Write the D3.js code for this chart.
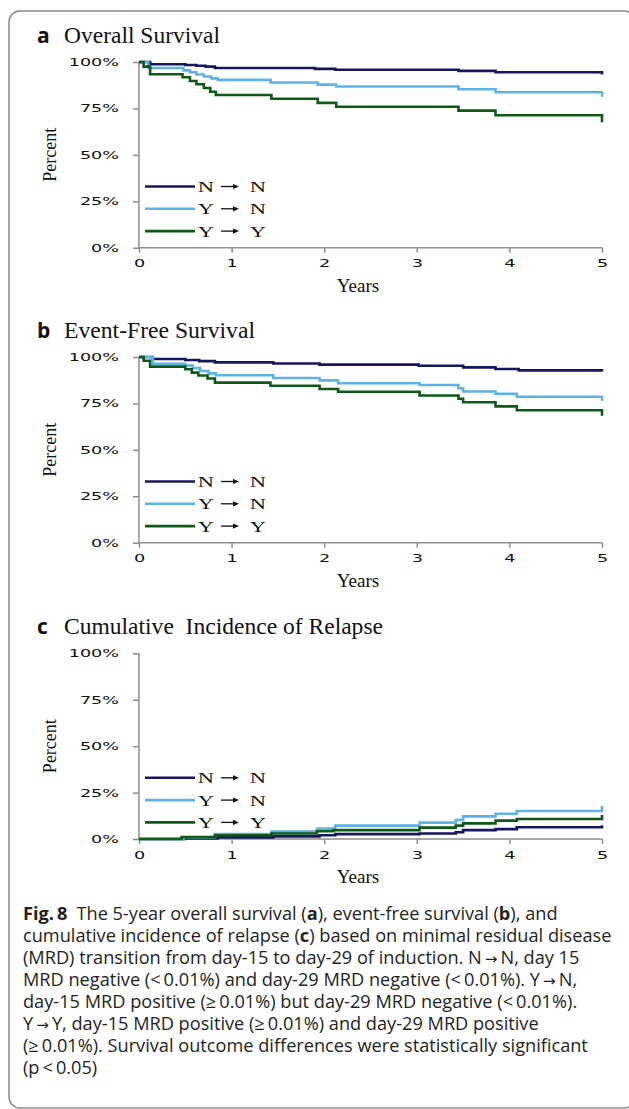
<!DOCTYPE html>
<html>
<head>
<meta charset="utf-8">
<script src="https://cdn.jsdelivr.net/npm/d3@7"></script>
<style>
  body { margin: 0; background: #fff; }
  svg { display: block; }
</style>
</head>
<body>
<div id="figure"></div>
<script>
const W = 629, H = 1109;

const years = [0, 1, 2, 3, 4, 5];
const pctTicks = [0, 25, 50, 75, 100];
const groups = [["N", "Y", "Y"], ["N", "N", "Y"]]; // day-15 status -> day-29 status
const colors = ["#16165f", "#5cb3e6", "#0d5a18"];

// [years, percent] step points
const osNN = [[0,100],[0.12,98.8],[0.5,98.4],[0.62,98],[0.72,97.5],[0.82,96.8],[1.9,96.3],[2.12,95.8],[3.45,95.2],[3.85,94.5],[5,93.3]];
const osYN = [[0,100],[0.1,96.8],[0.48,95.5],[0.55,94.5],[0.62,93.3],[0.7,92.2],[0.78,91.2],[0.85,90.4],[1.42,89],[1.93,87.8],[2.13,86.8],[3.45,85.3],[3.85,83.7],[5,81.3]];
const osYY = [[0,100],[0.05,97.5],[0.12,93.4],[0.47,91.8],[0.55,89.8],[0.62,88],[0.7,86],[0.77,84],[0.83,82.2],[1.43,80.2],[1.93,78],[2.13,75.9],[3.45,73.8],[3.85,71.3],[5,67.5]];

const efsNN = [[0,100],[0.15,98.9],[0.5,98.4],[0.65,97.8],[0.82,97.1],[1.45,96.5],[1.95,95.9],[3.02,95.3],[3.5,94.4],[3.85,93.5],[4.1,92.8],[5,92.2]];
const efsYN = [[0,100],[0.15,96.4],[0.5,95.4],[0.58,94],[0.66,92.5],[0.75,91.2],[0.83,90.2],[1.45,88.7],[1.95,87.4],[2.15,85.9],[3.03,84.9],[3.45,83.2],[3.5,81.4],[3.85,80.2],[4.08,78.6],[5,76.5]];
const efsYY = [[0,100],[0.05,98],[0.12,94.8],[0.5,93.4],[0.57,91.6],[0.64,90],[0.74,88.4],[0.82,86.2],[1.42,84.5],[1.95,82.8],[2.15,81.3],[3.03,79.3],[3.45,77.5],[3.5,75.6],[3.85,73.4],[4.08,71.3],[5,68.3]];

const cirNN = [[0,0],[0.5,0.3],[0.85,0.9],[1.45,1.4],[1.95,2],[2.12,2.6],[3.03,3],[3.42,3.6],[3.5,4.8],[3.85,5.3],[4.08,6.3],[5,7.4]];
const cirYN = [[0,0],[0.48,0.8],[0.82,2.6],[1.43,4],[1.92,5.6],[2.12,7.2],[3.03,8.8],[3.42,10.2],[3.5,12.2],[3.85,13.6],[4.08,15.1],[5,17.8]];
const cirYY = [[0,0],[0.46,1],[0.82,2],[1.43,3],[1.92,4.2],[2.1,4.8],[3.03,6.1],[3.42,7.2],[3.5,8.4],[3.85,9.9],[4.08,10.8],[5,12.9]];

const captionLines = [
  [["Fig.\u20098", true], ["\u2002The 5-year overall survival (", false], ["a", true], ["), event-free survival (", false], ["b", true], ["), and", false]],
  [["cumulative incidence of relapse (", false], ["c", true], [") based on minimal residual disease", false]],
  [["(MRD) transition from day-15 to day-29 of induction. N\u2009\u2192\u2009N, day 15", false]],
  [["MRD negative (<\u20090.01%) and day-29 MRD negative (<\u20090.01%). Y\u2009\u2192\u2009N,", false]],
  [["day-15 MRD positive (\u2265\u20090.01%) but day-29 MRD negative (<\u20090.01%).", false]],
  [["Y\u2009\u2192\u2009Y, day-15 MRD positive (\u2265\u20090.01%) and day-29 MRD positive", false]],
  [["(\u2265\u20090.01%). Survival outcome differences were statistically significant", false]],
  [["(p\u2009<\u20090.05)", false]]
];

const svg = d3.select("#figure").append("svg")
  .attr("width", W)
  .attr("height", H);

// figure frame (right and bottom edges run off the page)
svg.append("rect")
  .attr("x", 9).attr("y", 11)
  .attr("width", 626).attr("height", 1097)
  .attr("rx", 11)
  .attr("fill", "none")
  .attr("stroke", "#8a8a8a")
  .attr("stroke-width", 1.5);

const x = d3.scaleLinear().domain([0, 5]).range([139, 602]);

function stretch(sel, k) {
  sel.each(function() {
    const w = this.getComputedTextLength();
    d3.select(this).attr("textLength", w * k).attr("lengthAdjust", "spacingAndGlyphs");
  });
}

function panel(top, letter, title, titleW, series) {
  const y = d3.scaleLinear().domain([0, 100]).range([top + 185.7, top]);
  const g = svg.append("g");

  // title
  g.append("text")
    .attr("x", 37).attr("y", top - 19.5)
    .attr("font-family", "'Open Sans', sans-serif")
    .attr("font-weight", "bold")
    .attr("font-size", 21)
    .attr("fill", "#111")
    .text(letter);
  g.append("text")
    .attr("x", 64).attr("y", top - 19.5)
    .attr("font-family", "'Liberation Serif', serif")
    .attr("font-size", 23)
    .attr("fill", "#111")
    .attr("textLength", titleW)
    .attr("lengthAdjust", "spacingAndGlyphs")
    .attr("xml:space", "preserve")
    .text(title);

  // axes
  const yAxis = g.append("g")
    .attr("transform", `translate(${x(0)},0)`)
    .call(d3.axisLeft(y).tickValues(pctTicks).tickSize(6).tickSizeOuter(0).tickPadding(14).tickFormat(d => d + "%"));
  const xAxis = g.append("g")
    .attr("transform", `translate(0,${y(0)})`)
    .call(d3.axisBottom(x).tickValues(years).tickSize(5).tickSizeOuter(0).tickPadding(7).tickFormat(d3.format("d")));

  [yAxis, xAxis].forEach(a => {
    a.selectAll("path, line").attr("stroke", "#8d8d8d").attr("stroke-width", 1.5);
    a.selectAll("text")
      .attr("font-family", "'DejaVu Sans', sans-serif")
      .attr("font-size", 11)
      .attr("fill", "#111");
  });
  yAxis.select(".domain").attr("d", `M0,${y(0)}V${y(100)}`);
  xAxis.select(".domain").attr("d", `M${x(0)},0H${x(5)}`);
  stretch(yAxis.selectAll("text"), 1.6);
  stretch(xAxis.selectAll("text"), 1.6);

  // axis titles
  g.append("text")
    .attr("transform", `translate(56,${(y(0) + y(100)) / 2}) rotate(-90)`)
    .attr("text-anchor", "middle")
    .attr("font-family", "'Liberation Serif', serif")
    .attr("font-size", 18)
    .attr("fill", "#111")
    .text("Percent");
  g.append("text")
    .attr("x", 358).attr("y", y(0) + 44)
    .attr("text-anchor", "middle")
    .attr("font-family", "'Liberation Serif', serif")
    .attr("font-size", 19)
    .attr("fill", "#111")
    .text("Years");

  // survival step curves
  const line = d3.line()
    .x(d => x(d[0]))
    .y(d => y(d[1]))
    .curve(d3.curveStepAfter);

  g.selectAll(".curve")
    .data(series)
    .enter()
    .append("path")
      .attr("class", "curve")
      .attr("d", line)
      .attr("fill", "none")
      .attr("stroke", (d, i) => colors[i])
      .attr("stroke-width", 2.6);

  // legend: swatch, day-15 letter, arrow, day-29 letter
  const leg = g.selectAll(".leg")
    .data(colors)
    .enter()
    .append("g")
      .attr("class", "leg")
      .attr("transform", (d, i) => `translate(145,${top + 124.5 + i * 22.3})`);
  leg.append("line")
    .attr("x1", 0).attr("x2", 50)
    .attr("stroke", d => d)
    .attr("stroke-width", 2.6);
  leg.append("line")
    .attr("x1", 76).attr("x2", 89)
    .attr("stroke", "#111")
    .attr("stroke-width", 1.3);
  leg.append("path")
    .attr("d", "M88,-2.6L94,0L88,2.6Z")
    .attr("fill", "#111");
  [0, 1].forEach(k => {
    leg.append("text")
      .attr("x", k ? 113 : 61).attr("y", 5.5)
      .attr("text-anchor", "middle")
      .attr("font-family", "'Liberation Serif', serif")
      .attr("font-size", 15)
      .attr("fill", "#111")
      .text((d, i) => groups[k][i])
      .each(function() {
        const w = this.getComputedTextLength();
        d3.select(this).attr("textLength", w * 1.5).attr("lengthAdjust", "spacingAndGlyphs");
      });
  });
}

panel(62, "a", "Overall Survival", 156, [osNN, osYN, osYY]);
panel(357, "b", "Event-Free Survival", 191, [efsNN, efsYN, efsYY]);
panel(653.3, "c", "Cumulative  Incidence of Relapse", 319, [cirNN, cirYN, cirYY]);

// caption: split arrows into their own tspans so they use a font that has them
const capSegs = captionLines.map(line => line.flatMap(([t, b]) =>
  t.split(/(\u2192)/).filter(s => s.length).map(s => [s, b])));

const cap = svg.append("g");
const capText = cap.selectAll("text")
  .data(capSegs)
  .enter()
  .append("text")
    .attr("x", 0)
    .attr("y", (d, i) => i * 22)
    .attr("font-family", "'Open Sans', sans-serif")
    .attr("font-size", 18)
    .attr("fill", "#231f20")
    .attr("xml:space", "preserve");
capText.selectAll("tspan")
  .data(d => d)
  .enter()
  .append("tspan")
    .attr("font-weight", d => d[1] ? "bold" : "normal")
    .attr("font-family", d => d[0] === "\u2192" ? "'DejaVu Sans', sans-serif" : null)
    .attr("font-size", d => d[0] === "\u2192" ? 15 : null)
    .text(d => d[0]);

const refW = capText.nodes()[1].getComputedTextLength();
const sx = 589 / refW;
cap.attr("transform", `translate(23,920) scale(${sx},1)`);
</script>
</body>
</html>
